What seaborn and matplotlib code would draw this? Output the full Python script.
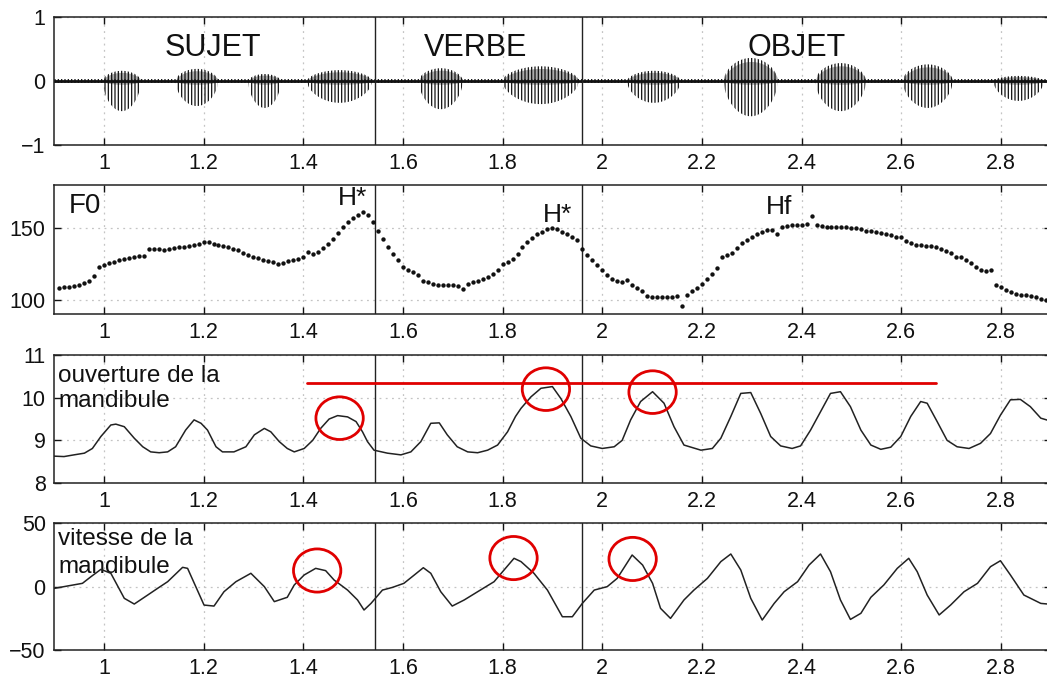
import numpy as np
import matplotlib
matplotlib.use("Agg")
import matplotlib.pyplot as plt
from matplotlib.patches import Ellipse
import seaborn as sns

sns.set_theme(style="ticks")
plt.rcParams['font.family'] = ['Liberation Sans', 'DejaVu Sans']
plt.rcParams['hatch.linewidth'] = 0.9
plt.rcParams['axes.unicode_minus'] = True

# ---------------- data ----------------
x_ticks = [1.0, 1.2, 1.4, 1.6, 1.8, 2.0, 2.2, 2.4, 2.6, 2.8]
x_tick_labels = ['1', '1.2', '1.4', '1.6', '1.8', '2', '2.2', '2.4', '2.6', '2.8']
boundary_t = [1.544, 1.959]

segment_names = ['SUJET', 'VERBE', 'OBJET']
segment_center_t = [1.219, 1.746, 2.39]

# audio waveform: voiced bursts (start, end, positive / negative amplitude)
wave_span = [0.9, 2.9]
burst_start = [0.998, 1.144, 1.290, 1.408, 1.632, 1.800, 2.050, 2.244, 2.428, 2.603, 2.785]
burst_end = [1.074, 1.229, 1.355, 1.538, 1.720, 1.953, 2.157, 2.352, 2.529, 2.703, 2.886]
burst_top = [0.16, 0.19, 0.11, 0.17, 0.20, 0.23, 0.16, 0.36, 0.28, 0.26, 0.08]
burst_bottom = [-0.47, -0.39, -0.42, -0.34, -0.44, -0.36, -0.34, -0.55, -0.47, -0.42, -0.31]

# F0 (Hz), one value every 10 ms
f0_time = [
    0.91, 0.92, 0.93, 0.94, 0.95, 0.96, 0.97, 0.98, 0.99, 1.00,
    1.01, 1.02, 1.03, 1.04, 1.05, 1.06, 1.07, 1.08, 1.09, 1.10,
    1.11, 1.12, 1.13, 1.14, 1.15, 1.16, 1.17, 1.18, 1.19, 1.20,
    1.21, 1.22, 1.23, 1.24, 1.25, 1.26, 1.27, 1.28, 1.29, 1.30,
    1.31, 1.32, 1.33, 1.34, 1.35, 1.36, 1.37, 1.38, 1.39, 1.40,
    1.41, 1.42, 1.43, 1.44, 1.45, 1.46, 1.47, 1.48, 1.49, 1.50,
    1.51, 1.52, 1.53, 1.54, 1.55, 1.56, 1.57, 1.58, 1.59, 1.60,
    1.61, 1.62, 1.63, 1.64, 1.65, 1.66, 1.67, 1.68, 1.69, 1.70,
    1.71, 1.72, 1.73, 1.74, 1.75, 1.76, 1.77, 1.78, 1.79, 1.80,
    1.81, 1.82, 1.83, 1.84, 1.85, 1.86, 1.87, 1.88, 1.89, 1.90,
    1.91, 1.92, 1.93, 1.94, 1.95, 1.96, 1.97, 1.98, 1.99, 2.00,
    2.01, 2.02, 2.03, 2.04, 2.05, 2.06, 2.07, 2.08, 2.09, 2.10,
    2.11, 2.12, 2.13, 2.14, 2.15, 2.16, 2.17, 2.18, 2.19, 2.20,
    2.21, 2.22, 2.23, 2.24, 2.25, 2.26, 2.27, 2.28, 2.29, 2.30,
    2.31, 2.32, 2.33, 2.34, 2.35, 2.36, 2.37, 2.38, 2.39, 2.40,
    2.41, 2.42, 2.43, 2.44, 2.45, 2.46, 2.47, 2.48, 2.49, 2.50,
    2.51, 2.52, 2.53, 2.54, 2.55, 2.56, 2.57, 2.58, 2.59, 2.60,
    2.61, 2.62, 2.63, 2.64, 2.65, 2.66, 2.67, 2.68, 2.69, 2.70,
    2.71, 2.72, 2.73, 2.74, 2.75, 2.76, 2.77, 2.78, 2.79, 2.80,
    2.81, 2.82, 2.83, 2.84, 2.85, 2.86, 2.87, 2.88, 2.89]
f0_value = [
    108.1, 108.6, 109.0, 109.5, 110.0, 111.3, 113.0, 116.5, 122.5, 124.3,
    125.5, 126.6, 127.5, 128.5, 129.2, 129.9, 130.6, 130.8, 135.6, 135.6,
    135.4, 134.7, 135.2, 136.1, 136.6, 137.0, 137.7, 138.4, 139.1, 140.5,
    140.0, 138.9, 138.2, 137.5, 136.8, 135.6, 134.5, 132.9, 131.5, 130.1,
    128.9, 127.8, 127.1, 126.4, 124.8, 125.9, 127.3, 127.8, 128.5, 129.6,
    133.3, 132.2, 133.6, 135.9, 138.9, 142.4, 146.3, 150.5, 154.4, 157.0,
    159.5, 161.0, 159.5, 154.0, 148.0, 142.3, 137.0, 132.0, 127.5, 123.0,
    120.5, 119.0, 117.2, 113.0, 112.0, 111.2, 110.4, 110.4, 110.2, 110.0,
    109.2, 107.6, 111.0, 112.0, 113.0, 114.5, 116.0, 118.0, 120.5, 125.0,
    126.5, 128.5, 132.0, 137.0, 140.0, 143.0, 145.8, 147.6, 149.5, 150.2,
    149.3, 147.3, 145.6, 143.8, 141.5, 135.5, 131.5, 128.0, 124.3, 121.0,
    117.5, 114.4, 112.7, 112.5, 113.9, 110.4, 108.1, 106.3, 102.8, 102.1,
    101.9, 101.9, 101.9, 102.1, 102.8, 95.8, 103.5, 105.8, 108.1, 111.1,
    114.4, 118.1, 122.0, 130.1, 131.3, 132.4, 135.9, 139.8, 141.7, 144.0,
    145.8, 147.5, 148.6, 148.6, 145.8, 150.5, 151.4, 151.9, 151.9, 152.1,
    153.2, 158.6, 152.1, 151.4, 150.9, 150.7, 150.5, 150.5, 150.5, 150.2,
    150.0, 149.3, 148.1, 147.7, 147.2, 146.5, 145.8, 144.9, 144.0, 143.5,
    141.2, 139.4, 138.4, 138.0, 137.7, 137.3, 136.6, 135.2, 134.0, 132.4,
    129.6, 129.6, 127.8, 125.5, 123.1, 120.8, 119.7, 120.8, 110.4, 108.6,
    106.5, 105.1, 104.2, 103.5, 103.0, 102.5, 101.6, 100.5, 100.0]
f0_labels = ['H*', 'H*', 'Hf']
f0_label_t = [1.50, 1.911, 2.354]
f0_label_v = [166, 154, 160]

# jaw opening (mandibule)
open_t = [
    0.900, 0.920, 0.940, 0.961, 0.977, 0.994, 1.014, 1.024, 1.041, 1.061,
    1.078, 1.094, 1.111, 1.128, 1.144, 1.164, 1.181, 1.195, 1.208, 1.225,
    1.238, 1.261, 1.285, 1.302, 1.322, 1.335, 1.352, 1.368, 1.382, 1.402,
    1.419, 1.435, 1.452, 1.469, 1.489, 1.506, 1.519, 1.529, 1.542, 1.569,
    1.596, 1.616, 1.636, 1.656, 1.673, 1.689, 1.709, 1.730, 1.750, 1.770,
    1.790, 1.810, 1.826, 1.837, 1.857, 1.877, 1.900, 1.917, 1.937, 1.957,
    1.977, 2.000, 2.024, 2.040, 2.057, 2.077, 2.101, 2.124, 2.144, 2.164,
    2.198, 2.221, 2.238, 2.258, 2.278, 2.298, 2.318, 2.338, 2.358, 2.381,
    2.398, 2.418, 2.438, 2.458, 2.478, 2.498, 2.519, 2.539, 2.559, 2.579,
    2.599, 2.619, 2.639, 2.652, 2.672, 2.692, 2.712, 2.736, 2.759, 2.779,
    2.799, 2.819, 2.839, 2.859, 2.880, 2.900]
open_v = [
    8.63, 8.62, 8.66, 8.70, 8.81, 9.09, 9.36, 9.38, 9.32, 9.05,
    8.85, 8.73, 8.71, 8.73, 8.85, 9.24, 9.48, 9.40, 9.24, 8.85,
    8.73, 8.73, 8.85, 9.13, 9.28, 9.20, 8.97, 8.81, 8.73, 8.81,
    9.00, 9.28, 9.50, 9.58, 9.55, 9.44, 9.20, 8.97, 8.77, 8.70,
    8.66, 8.73, 8.97, 9.40, 9.41, 9.13, 8.85, 8.73, 8.71, 8.77,
    8.89, 9.20, 9.56, 9.75, 10.02, 10.22, 10.26, 9.98, 9.56, 9.05,
    8.87, 8.81, 8.85, 9.00, 9.48, 9.91, 10.14, 9.87, 9.32, 8.89,
    8.77, 8.81, 9.05, 9.56, 10.10, 10.12, 9.63, 9.09, 8.87, 8.81,
    8.87, 9.24, 9.67, 10.10, 10.14, 9.79, 9.24, 8.89, 8.79, 8.84,
    9.09, 9.56, 9.91, 9.87, 9.44, 9.00, 8.85, 8.81, 8.93, 9.16,
    9.59, 9.95, 9.96, 9.79, 9.52, 9.45]
open_ref_t = [1.407, 2.669]
open_ref_v = [10.34, 10.34]
open_circle_t = [1.473, 1.887, 2.101]
open_circle_v = [9.52, 10.20, 10.13]

# jaw velocity
vel_t = [
    0.900, 0.927, 0.957, 0.974, 0.994, 1.014, 1.041, 1.061, 1.088, 1.108,
    1.128, 1.158, 1.168, 1.201, 1.221, 1.241, 1.265, 1.295, 1.322, 1.342,
    1.368, 1.382, 1.402, 1.425, 1.445, 1.462, 1.489, 1.509, 1.522, 1.536,
    1.559, 1.579, 1.602, 1.623, 1.641, 1.656, 1.676, 1.699, 1.723, 1.750,
    1.783, 1.803, 1.823, 1.837, 1.863, 1.890, 1.920, 1.940, 1.960, 1.984,
    2.010, 2.030, 2.060, 2.081, 2.101, 2.117, 2.137, 2.164, 2.184, 2.211,
    2.238, 2.258, 2.278, 2.298, 2.321, 2.345, 2.365, 2.392, 2.415, 2.438,
    2.458, 2.478, 2.498, 2.519, 2.539, 2.565, 2.592, 2.615, 2.632, 2.652,
    2.676, 2.699, 2.726, 2.753, 2.779, 2.799, 2.819, 2.846, 2.880, 2.900]
vel_v = [
    -1.5, 0.4, 2.5, 7.7, 13.5, 10.4, -9.3, -13.8, -6.7, -1.4,
    3.8, 15.1, 14.3, -14.6, -15.4, -4.1, 3.8, 10.4, -0.1, -11.9,
    -8.5, 1.2, 9.1, 14.3, 12.5, 5.1, -2.8, -10.6, -18.5, -13.3,
    -2.8, -0.7, 2.5, 9.1, 14.8, 10.4, -4.1, -15.4, -10.6, -4.1,
    3.8, 13.0, 22.2, 19.6, 10.4, -2.8, -23.8, -23.8, -13.3, -2.8,
    -0.1, 6.4, 24.8, 16.9, 2.5, -17.2, -25.1, -10.6, -2.8, 6.4,
    19.6, 25.6, 13.0, -9.3, -26.4, -13.3, -4.1, 3.8, 16.9, 25.6,
    11.7, -10.6, -25.9, -21.1, -8.5, 1.2, 14.3, 22.2, 11.7, -6.7,
    -22.4, -14.6, -4.1, 2.5, 15.6, 20.3, 9.1, -6.7, -13.3, -14.0]
vel_circle_t = [1.428, 1.822, 2.061]
vel_circle_v = [12.6, 22.4, 21.7]

# ---------------- figure ----------------
fig = plt.figure(figsize=(10.47, 6.81), dpi=100)
fig.patch.set_facecolor('white')
left, width = 0.0516, 0.952
rects = [(0.787, 0.188), (0.539, 0.189), (0.2907, 0.188), (0.0455, 0.1865)]
ylims = [(-1, 1), (90, 180), (8, 11), (-50, 50)]
yticks = [[-1, 0, 1], [100, 150], [8, 9, 10, 11], [-50, 0, 50]]
axes = []
for (b, h), yl, yt in zip(rects, ylims, yticks):
    ax = fig.add_axes([left, b, width, h])
    ax.set_xlim(0.9, 2.9)
    ax.set_ylim(*yl)
    ax.set_xticks(x_ticks)
    ax.set_xticklabels(x_tick_labels)
    ax.set_yticks(yt)
    ax.set_facecolor('white')
    ax.set_axisbelow(True)
    ax.grid(True, linestyle=(0, (1.5, 3.5)), color='#c4c4c4', linewidth=0.9)
    ax.tick_params(direction='in', top=True, right=True, length=5, width=1,
                   labelsize=15.5, pad=6, colors='#111111')
    for s in ['top', 'bottom', 'left']:
        ax.spines[s].set_color('#222222')
        ax.spines[s].set_linewidth(1.1)
    ax.spines['right'].set_visible(False)
    for bt in boundary_t:
        ax.axvline(bt, color='#222222', lw=1.0, zorder=3)
    axes.append(ax)

ax1, ax2, ax3, ax4 = axes

# panel 1: waveform
ax1.fill_between(wave_span, [-0.035, -0.035], [0.035, 0.035], facecolor='none',
                 edgecolor='#111111', hatch='|||||', linewidth=0, zorder=2)
ax1.plot(wave_span, [0, 0], color='#111111', lw=2.0, zorder=2)
for t0, t1, up, lo in zip(burst_start, burst_end, burst_top, burst_bottom):
    tt = np.linspace(t0, t1, 60)
    env = np.sin(np.pi * (tt - t0) / (t1 - t0)) ** 0.5
    ax1.fill_between(tt, lo * env, up * env, facecolor='none', edgecolor='#111111',
                     hatch='|||||', linewidth=0, zorder=2)
    ax1.fill_between(tt, -0.05 * env, up * 0.85 * env, color='#111111',
                     alpha=0.35, linewidth=0, zorder=2)
for name, tc in zip(segment_names, segment_center_t):
    ax1.text(tc, 0.39, name, fontsize=22, ha='center', va='baseline', color='#111111')

# panel 2: F0
sns.scatterplot(x=f0_time, y=f0_value, ax=ax2, color='#111111', s=10,
                linewidth=0, zorder=4, legend=False)
ax2.text(0.93, 160.4, 'F0', fontsize=20, ha='left', va='baseline', color='#111111')
for lab, tl, vl in zip(f0_labels, f0_label_t, f0_label_v):
    ax2.text(tl, vl, lab, fontsize=19, ha='center', va='baseline', color='#111111')

# panel 3: jaw opening
sns.lineplot(x=open_t, y=open_v, ax=ax3, color='#222222', lw=1.1,
             estimator=None, sort=False, zorder=4)
sns.lineplot(x=open_ref_t, y=open_ref_v, ax=ax3, color='#e00000', lw=2.0,
             estimator=None, sort=False, zorder=5)
for ct, cv in zip(open_circle_t, open_circle_v):
    ax3.add_patch(Ellipse((ct, cv), 0.095, 1.0, facecolor='none',
                          edgecolor='#e00000', lw=2.0, zorder=6))
ax3.text(0.908, 10.37, 'ouverture de la', fontsize=17.5, ha='left', va='baseline', color='#111111')
ax3.text(0.908, 9.78, 'mandibule', fontsize=17.5, ha='left', va='baseline', color='#111111')

# panel 4: jaw velocity
sns.lineplot(x=vel_t, y=vel_v, ax=ax4, color='#222222', lw=1.1,
             estimator=None, sort=False, zorder=4)
for ct, cv in zip(vel_circle_t, vel_circle_v):
    ax4.add_patch(Ellipse((ct, cv), 0.095, 34.0, facecolor='none',
                          edgecolor='#e00000', lw=2.0, zorder=6))
ax4.text(0.908, 32.7, 'vitesse de la', fontsize=17.5, ha='left', va='baseline', color='#111111')
ax4.text(0.908, 10.6, 'mandibule', fontsize=17.5, ha='left', va='baseline', color='#111111')

for ax in axes:
    ax.set_xlabel('')
    ax.set_ylabel('')

fig.savefig('out.png', dpi=100, facecolor='white')
